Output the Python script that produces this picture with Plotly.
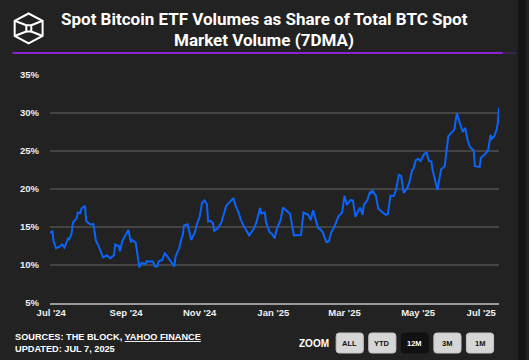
import plotly.graph_objects as go

dates = ["2024-06-30","2024-07-02","2024-07-03","2024-07-05","2024-07-08","2024-07-10","2024-07-12","2024-07-15","2024-07-16","2024-07-18","2024-07-19","2024-07-22","2024-07-23","2024-07-25","2024-07-26","2024-07-29","2024-07-30",
         "2024-08-02","2024-08-05","2024-08-07","2024-08-09","2024-08-13","2024-08-16","2024-08-19","2024-08-22","2024-08-23","2024-08-26","2024-08-27","2024-08-29",
         "2024-09-03","2024-09-05","2024-09-06","2024-09-09","2024-09-12","2024-09-14","2024-09-17","2024-09-18","2024-09-20","2024-09-23","2024-09-25","2024-09-27","2024-09-28",
         "2024-10-01","2024-10-03","2024-10-04","2024-10-10","2024-10-11","2024-10-12","2024-10-15","2024-10-17","2024-10-18","2024-10-19","2024-10-22","2024-10-25","2024-10-28","2024-10-30",
         "2024-11-01","2024-11-03","2024-11-05","2024-11-07","2024-11-08","2024-11-10","2024-11-12","2024-11-13","2024-11-16","2024-11-19","2024-11-21","2024-11-23","2024-11-26","2024-11-29",
         "2024-12-01","2024-12-03","2024-12-05","2024-12-07","2024-12-12","2024-12-16","2024-12-18","2024-12-21","2024-12-22","2024-12-25","2024-12-26","2024-12-29","2024-12-31",
         "2025-01-02","2025-01-04","2025-01-07","2025-01-09","2025-01-12","2025-01-15","2025-01-18","2025-01-24","2025-01-26","2025-01-30",
         "2025-02-01","2025-02-03","2025-02-07","2025-02-09","2025-02-11","2025-02-14","2025-02-16","2025-02-18","2025-02-20","2025-02-24","2025-02-27",
         "2025-03-01","2025-03-03","2025-03-06","2025-03-08","2025-03-10","2025-03-12","2025-03-14","2025-03-16","2025-03-17","2025-03-20","2025-03-22","2025-03-23","2025-03-24","2025-03-27","2025-03-29",
         "2025-04-04","2025-04-06","2025-04-08","2025-04-11","2025-04-13","2025-04-15","2025-04-17","2025-04-19","2025-04-22","2025-04-24","2025-04-26","2025-04-27","2025-04-29",
         "2025-05-01","2025-05-03","2025-05-06","2025-05-08","2025-05-10","2025-05-12","2025-05-13","2025-05-17","2025-05-20","2025-05-23","2025-05-26","2025-05-31",
         "2025-06-02","2025-06-07","2025-06-09","2025-06-11","2025-06-13","2025-06-16","2025-06-17","2025-06-21","2025-06-22","2025-06-25","2025-06-28","2025-06-30",
         "2025-07-01","2025-07-03","2025-07-05","2025-07-06","2025-07-07"]

etf_share_pct = [14.25,14.4,13.1,12.2,12.4,12.7,12.3,13.5,13.4,14.2,15.6,16.1,16.9,16.8,17.4,17.8,15.8,
                 15.35,15.35,13.2,12.6,11.0,11.25,10.9,11.3,12.7,12.5,11.8,13.2,
                 14.6,13.0,13.3,12.95,9.7,10.3,10.1,10.5,10.45,10.5,9.8,9.8,10.5,
                 10.65,11.55,11.4,9.9,9.8,11.1,12.2,13.5,13.9,15.2,15.35,13.3,14.3,15.5,
                 16.35,18.2,18.5,18.0,15.7,15.8,15.5,14.5,14.8,15.6,16.8,17.8,18.3,18.8,
                 17.7,17.0,16.0,15.3,13.9,14.8,15.6,17.5,16.8,16.9,15.6,14.3,14.1,
                 13.5,14.8,15.9,17.55,17.15,16.7,13.9,13.95,16.9,16.6,
                 15.9,17.2,14.9,14.7,14.3,13.0,13.1,14.3,14.8,16.4,16.9,
                 19.1,17.9,18.55,18.5,16.35,17.0,17.55,16.6,17.9,18.55,19.65,19.35,19.85,19.1,17.4,
                 16.6,16.7,19.1,19.1,20.1,21.85,21.7,19.5,20.1,21.0,22.5,22.6,23.8,
                 23.95,23.7,24.6,24.8,23.7,23.6,22.5,19.85,22.6,23.0,26.95,27.8,
                 29.95,27.5,28.05,26.4,25.5,25.1,23.0,22.9,24.1,24.5,25.1,27.1,
                 26.6,26.9,27.8,28.6,30.7]

x_tick_vals = ["2024-07-01","2024-09-01","2024-11-01","2025-01-01","2025-03-01","2025-05-01","2025-07-01"]
x_tick_text = ["Jul '24","Sep '24","Nov '24","Jan '25","Mar '25","May '25","Jul '25" + "\u00a0" * 8]
y_tick_vals = [5, 10, 15, 20, 25, 30, 35]
y_tick_text = [f"{v}%" for v in y_tick_vals]

zoom_buttons = ["ALL", "YTD", "12M", "3M", "1M"]
active_button = "12M"

W, H = 529, 360
ML, MR, MT, MB = 50, 24, 75, 57
PW, PH = W - ML - MR, H - MT - MB

def px(x):
    return (x - ML) / PW

def py(y):
    return (H - MB - y) / PH

BG = "#222222"
fig = go.Figure()
fig.add_trace(go.Scatter(x=dates, y=etf_share_pct, mode="lines",
                         line=dict(color="#0a64f8", width=2), hoverinfo="skip"))

shapes = []
# right dark strip
shapes.append(dict(type="rect", xref="paper", yref="paper", x0=px(524), x1=px(532), y0=py(-2), y1=py(362),
                   fillcolor="#151515", line=dict(width=0), layer="below"))
# purple divider
shapes.append(dict(type="line", xref="paper", yref="paper", x0=px(12), x1=px(509), y0=py(53), y1=py(53),
                   line=dict(color="#8a22d6", width=2)))
shapes.append(dict(type="line", xref="paper", yref="paper", x0=px(509), x1=px(522), y0=py(53), y1=py(53),
                   line=dict(color="#3a2450", width=2)))

# logo
def path(points, close=True):
    s = "M " + " L ".join(f"{px(a):.5f},{py(b):.5f}" for a, b in points)
    return s + (" Z" if close else "")

hexa = [(28.3, 13.5), (42.5, 20.8), (42.5, 36), (28.3, 43.3), (14.2, 36), (14.2, 20.8)]
shapes.append(dict(type="path", xref="paper", yref="paper", path=path(hexa),
                   line=dict(color="white", width=2)))
shapes.append(dict(type="path", xref="paper", yref="paper",
                   path=path([(26, 25.2), (31, 25.2), (31, 31.5), (26, 31.5)]),
                   line=dict(color="white", width=2)))
for a, b in [((14.2, 20.8), (26, 25.2)), ((42.5, 20.8), (31, 25.2)),
             ((14.2, 36), (26, 31.5)), ((42.5, 36), (31, 31.5))]:
    shapes.append(dict(type="path", xref="paper", yref="paper", path=path([a, b], close=False),
                       line=dict(color="white", width=2)))

# zoom buttons (rounded rects)
def rrect(x0, y0, x1, y1, r=3):
    pts = (f"M {px(x0+r):.5f},{py(y0):.5f} L {px(x1-r):.5f},{py(y0):.5f} "
           f"Q {px(x1):.5f},{py(y0):.5f} {px(x1):.5f},{py(y0+r):.5f} "
           f"L {px(x1):.5f},{py(y1-r):.5f} Q {px(x1):.5f},{py(y1):.5f} {px(x1-r):.5f},{py(y1):.5f} "
           f"L {px(x0+r):.5f},{py(y1):.5f} Q {px(x0):.5f},{py(y1):.5f} {px(x0):.5f},{py(y1-r):.5f} "
           f"L {px(x0):.5f},{py(y0+r):.5f} Q {px(x0):.5f},{py(y0):.5f} {px(x0+r):.5f},{py(y0):.5f} Z")
    return pts

annotations = []
bx = 340
for lab in zoom_buttons:
    active = lab == active_button
    shapes.append(dict(type="path", xref="paper", yref="paper", path=rrect(bx, 333, bx + 27.5, 353),
                       fillcolor="#111111" if active else "#d6d6d6",
                       line=dict(color="#111111" if active else "#c4c4c4", width=1)))
    annotations.append(dict(x=px(bx + 13.75), y=py(343.5), xref="paper", yref="paper", text=f"<b>{lab}</b>",
                            showarrow=False, xanchor="center", yanchor="middle",
                            font=dict(family="Arial", size=7.5, color="white" if active else "#111111")))
    bx += 33

annotations.append(dict(x=px(318), y=py(343), xref="paper", yref="paper", text="<b>ZOOM</b>",
                        showarrow=False, xanchor="center", yanchor="middle",
                        font=dict(family="Arial", size=10, color="white")))

annotations.append(dict(x=px(13), y=py(343), xref="paper", yref="paper",
                        text="<b>SOURCES: THE BLOCK, <u>YAHOO FINANCE</u><br>UPDATED: JUL 7, 2025</b>",
                        showarrow=False, xanchor="left", yanchor="middle", align="left",
                        font=dict(family="Arial", size=9.2, color="white")))

annotations.append(dict(x=px(267), y=py(19.5), xref="paper", yref="paper",
                        text="Spot Bitcoin ETF Volumes as Share of Total BTC Spot",
                        showarrow=False, xanchor="center", yanchor="middle",
                        font=dict(family="Roboto", size=17, color="white", weight=700)))
annotations.append(dict(x=px(267), y=py(40.2), xref="paper", yref="paper",
                        text="Market Volume (7DMA)",
                        showarrow=False, xanchor="center", yanchor="middle",
                        font=dict(family="Roboto", size=17, color="white", weight=700)))

fig.update_layout(
    width=W, height=H,
    margin=dict(l=ML, r=MR, t=MT, b=MB),
    paper_bgcolor=BG, plot_bgcolor=BG,
    showlegend=False,
    shapes=shapes,
    annotations=annotations,
    xaxis=dict(type="date", range=[dates[0], dates[-1]], tickvals=x_tick_vals, ticktext=x_tick_text,
               showgrid=False, zeroline=False, showline=True, linecolor="#9a9a9a", linewidth=1.5,
               ticks="", tickfont=dict(family="Arial", size=9.5, color="#f0f0f0", weight=700),
               fixedrange=True),
    yaxis=dict(range=[5, 35], tickvals=y_tick_vals, ticktext=y_tick_text,
               showgrid=True, gridcolor="#444444", gridwidth=1.5, zeroline=False, showline=False,
               ticks="", tickfont=dict(family="Arial", size=9.5, color="#f0f0f0", weight=700),
               ticklabelstandoff=10, fixedrange=True),
)

fig.write_html("out.html", config={"displayModeBar": False},
               post_script="document.body.style.margin='0px';document.body.style.background='#222222';")
